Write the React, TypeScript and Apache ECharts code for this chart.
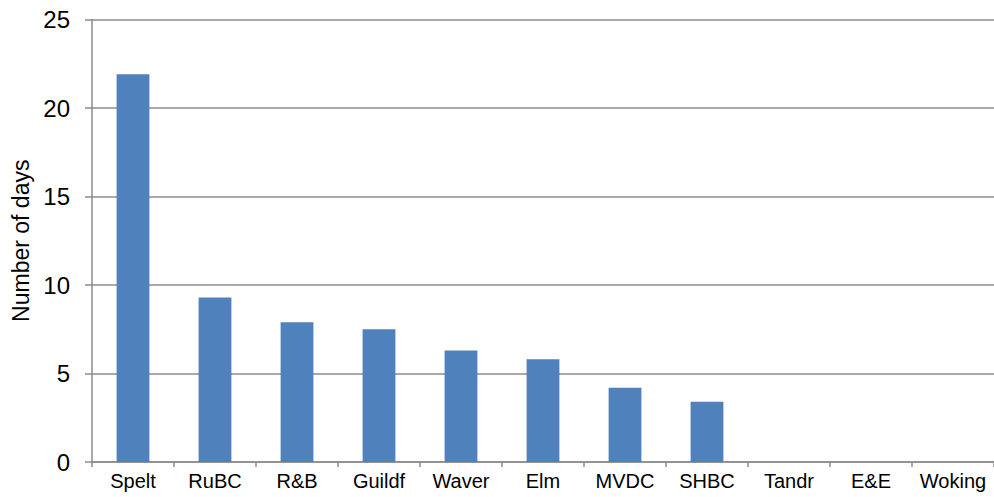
import React, { useEffect, useRef } from "react";
import * as echarts from "echarts";

const categories = ["Spelt", "RuBC", "R&B", "Guildf", "Waver", "Elm", "MVDC", "SHBC", "Tandr", "E&E", "Woking"];
const days = [21.9, 9.3, 7.9, 7.5, 6.3, 5.8, 4.2, 3.4, 0, 0, 0];
const yTicks = { min: 0, max: 25, interval: 5 };
const yAxisTitle = "Number of days";

const FONT = "'Liberation Sans', Arial, sans-serif";
const GREY = "#8c8c8c";

export default function App() {
  const ref = useRef<HTMLDivElement>(null);
  useEffect(() => {
    if (!ref.current) return;
    const chart = echarts.init(ref.current, null, { renderer: "svg" });
    chart.setOption({
      animation: false,
      grid: { left: 92, right: -6, top: 19.5, bottom: 35, containLabel: false },
      xAxis: {
        type: "category",
        data: categories,
        boundaryGap: true,
        axisLine: { show: true, lineStyle: { color: GREY, width: 1.5 } },
        axisTick: { show: true, length: 5, inside: false, alignWithLabel: false, lineStyle: { color: GREY, width: 1.5 } },
        axisLabel: { color: "#000", fontSize: 20, fontFamily: FONT, margin: 9, interval: 0 },
        splitLine: { show: false },
      },
      yAxis: {
        type: "value",
        min: yTicks.min,
        max: yTicks.max,
        interval: yTicks.interval,
        name: yAxisTitle,
        nameLocation: "middle",
        nameGap: 58,
        nameRotate: 90,
        nameTextStyle: { color: "#000", fontSize: 23, fontFamily: FONT },
        axisLine: { show: true, lineStyle: { color: GREY, width: 1.5 } },
        axisTick: { show: true, length: 7, lineStyle: { color: GREY, width: 1.5 } },
        axisLabel: { color: "#000", fontSize: 24, fontFamily: FONT, margin: 22 },
        splitLine: { show: true, lineStyle: { color: GREY, width: 1.5 } },
      },
      series: [
        {
          type: "bar",
          data: days,
          barWidth: "40%",
          itemStyle: { color: "#4f81bd" },
        },
      ],
    });
    return () => chart.dispose();
  }, []);
  return <div ref={ref} style={{ width: 994, height: 497, position: "absolute", left: 0, top: 0 }} />;
}
